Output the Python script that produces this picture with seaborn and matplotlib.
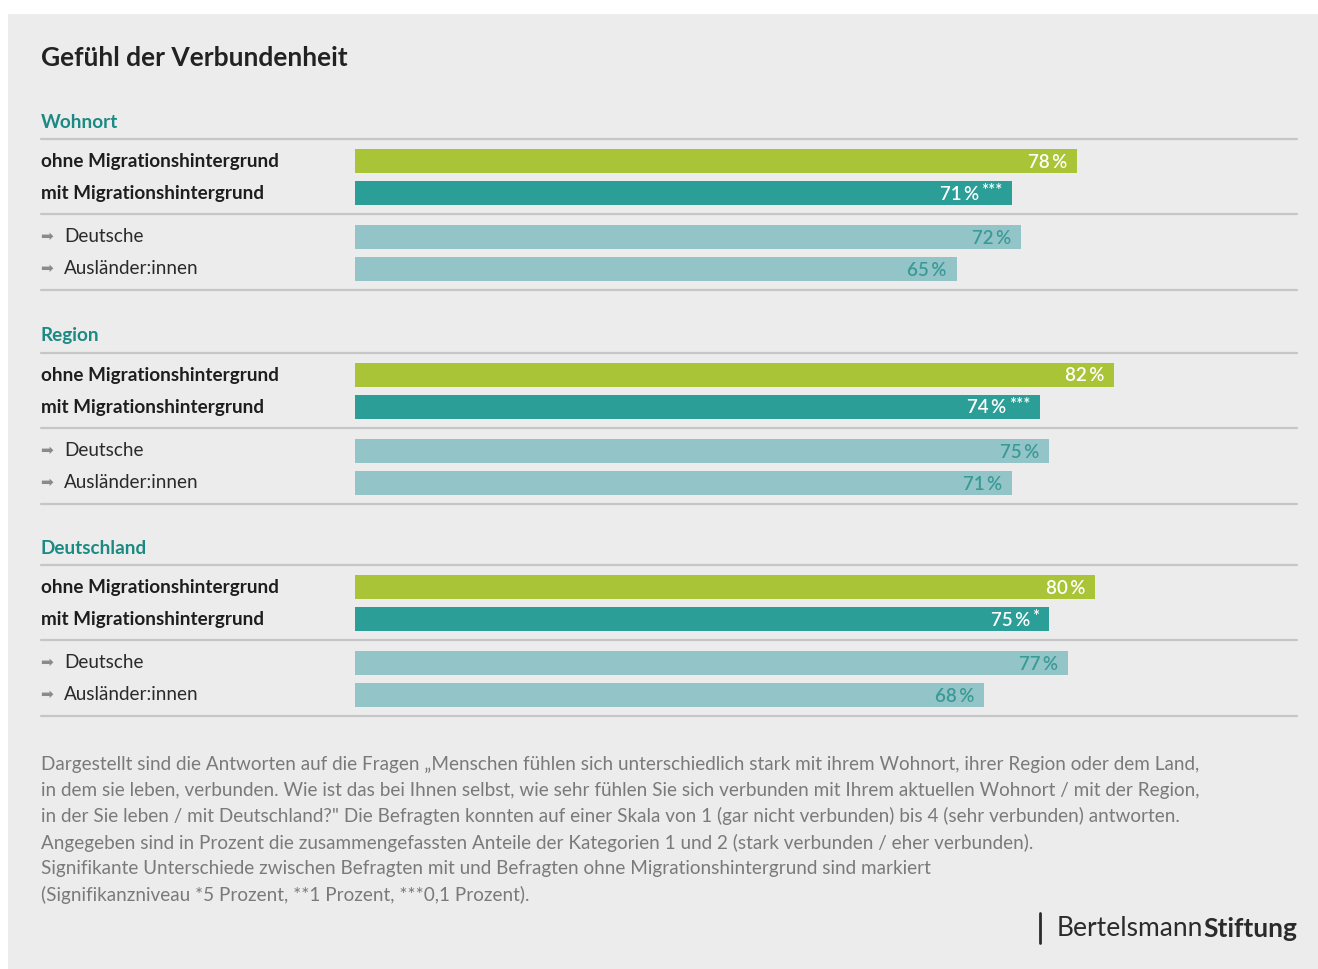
import matplotlib
matplotlib.use("Agg")
import matplotlib.pyplot as plt
from matplotlib.patches import Rectangle
from matplotlib.lines import Line2D
import seaborn as sns
import pandas as pd

# ---------------- data ----------------
title = "Gefühl der Verbundenheit"
sections = ["Wohnort", "Region", "Deutschland"]
main_labels = ["ohne Migrationshintergrund", "mit Migrationshintergrund"]
sub_labels = ["Deutsche", "Ausländer:innen"]
main_values = [[78, 71], [82, 74], [80, 75]]
main_stars = [["", "***"], ["", "***"], ["", "*"]]
sub_values = [[72, 65], [75, 71], [77, 68]]
footnote_lines = [
    "Dargestellt sind die Antworten auf die Fragen \u201eMenschen fühlen sich unterschiedlich stark mit ihrem Wohnort, ihrer Region oder dem Land,",
    "in dem sie leben, verbunden. Wie ist das bei Ihnen selbst, wie sehr fühlen Sie sich verbunden mit Ihrem aktuellen Wohnort / mit der Region,",
    "in der Sie leben / mit Deutschland?\" Die Befragten konnten auf einer Skala von 1 (gar nicht verbunden) bis 4 (sehr verbunden) antworten.",
    "Angegeben sind in Prozent die zusammengefassten Anteile der Kategorien 1 und 2 (stark verbunden / eher verbunden).",
    "Signifikante Unterschiede zwischen Befragten mit und Befragten ohne Migrationshintergrund sind markiert",
    "(Signifikanzniveau *5 Prozent, **1 Prozent, ***0,1 Prozent).",
]
logo_regular = "Bertelsmann"
logo_bold = "Stiftung"

# ---------------- style ----------------
W, H = 1318, 969
GREEN = "#a9c436"
TEAL = "#2b9e98"
LIGHT = "#93c4c8"
LIGHT_TXT = "#3a9a97"
HEAD = "#1b8a83"
BG = "#ececec"
LINE = "#c6c6c6"

sns.set_theme(style="white")
plt.rcParams["font.family"] = ["Lato", "DejaVu Sans"]

fig = plt.figure(figsize=(W / 100, H / 100), dpi=100)
fig.patch.set_facecolor("white")
fig.patches.append(Rectangle((8 / W, 0), 1 - 8 / W, 1 - 14 / H,
                             transform=fig.transFigure, facecolor=BG,
                             edgecolor="none", zorder=-10))


def fx(px):
    return px / W


def fy(py):
    return 1 - py / H


def hline(py):
    fig.add_artist(Line2D([fx(41), fx(1297)], [fy(py), fy(py)],
                          color=LINE, lw=1.6, transform=fig.transFigure))


renderer = fig.canvas.get_renderer()

fig.text(fx(41), fy(58), title, fontsize=19, fontweight="bold",
         color="#222222", va="center", ha="left")

X0, X100 = 355, 1280.6
section_top = [161, 375, 587]
sub_offset = 76
ROW = 32
LABEL_FS = 13.6


def draw_pair(c1, labels, values, stars, colors, txtcolor, arrows):
    ax = fig.add_axes([fx(X0), fy(c1 + ROW + ROW / 2), fx(X100) - fx(X0), 2 * ROW / H])
    df = pd.DataFrame({"label": labels, "value": values})
    sns.barplot(data=df, x="value", y="label", hue="label", palette=colors,
                width=0.75, ax=ax, legend=False, saturation=1, linewidth=0,
                edgecolor="none")
    ax.set_xlim(0, 100)
    ax.set_ylim(1.5, -0.5)
    ax.set_axis_off()
    ax.patch.set_alpha(0)
    for i, (lab, v, st) in enumerate(zip(labels, values, stars)):
        off = -10
        if st:
            t = ax.annotate(st, xy=(v, i), xytext=(off, 2), textcoords="offset pixels",
                            ha="right", va="center", fontsize=12,
                            color=txtcolor, fontweight="semibold")
            bb = t.get_window_extent(renderer)
            off = off - bb.width - 2
        ax.annotate(f"{v}\u2009%", xy=(v, i), xytext=(off, -1), textcoords="offset pixels",
                    ha="right", va="center", fontsize=13.5, color=txtcolor,
                    fontweight="semibold")
        cy = c1 + i * ROW
        if arrows:
            fig.text(fx(40), fy(cy - 1), "\u27a1", fontsize=11, color="#8a8a8a",
                     va="center", ha="left", family=["DejaVu Sans"])
            fig.text(fx(64), fy(cy), lab, fontsize=LABEL_FS, color="#2a2a2a",
                     va="center", ha="left")
        else:
            fig.text(fx(41), fy(cy), lab, fontsize=LABEL_FS, color="#1e1e1e",
                     fontweight="bold", va="center", ha="left")


for s, name in enumerate(sections):
    c1 = section_top[s]
    fig.text(fx(41), fy(c1 - 39), name, fontsize=LABEL_FS, fontweight="bold",
             color=HEAD, va="center", ha="left")
    hline(c1 - 22)
    draw_pair(c1, main_labels, main_values[s], main_stars[s],
              [GREEN, TEAL], "white", False)
    hline(c1 + ROW + 21)
    draw_pair(c1 + sub_offset, sub_labels, sub_values[s], ["", ""],
              [LIGHT, LIGHT], LIGHT_TXT, True)
    hline(c1 + sub_offset + ROW + 21)

for k, line in enumerate(footnote_lines):
    fig.text(fx(41), fy(764 + k * 26.2), line, fontsize=13.55, color="#7a7a7a",
             va="center", ha="left")

# logo
tb = fig.text(fx(1297), fy(929), logo_bold, fontsize=19, fontweight="bold",
              color="#2b2b2b", va="center", ha="right")
bb = tb.get_window_extent(renderer)
fig.text(bb.x0 / W, fy(929), logo_regular, fontsize=19, color="#2b2b2b",
         va="center", ha="right")
fig.add_artist(Line2D([fx(1040), fx(1040)], [fy(913), fy(943)], color="#2b2b2b",
                      lw=2, transform=fig.transFigure))

fig.savefig("out.png", dpi=100, facecolor=fig.get_facecolor())
